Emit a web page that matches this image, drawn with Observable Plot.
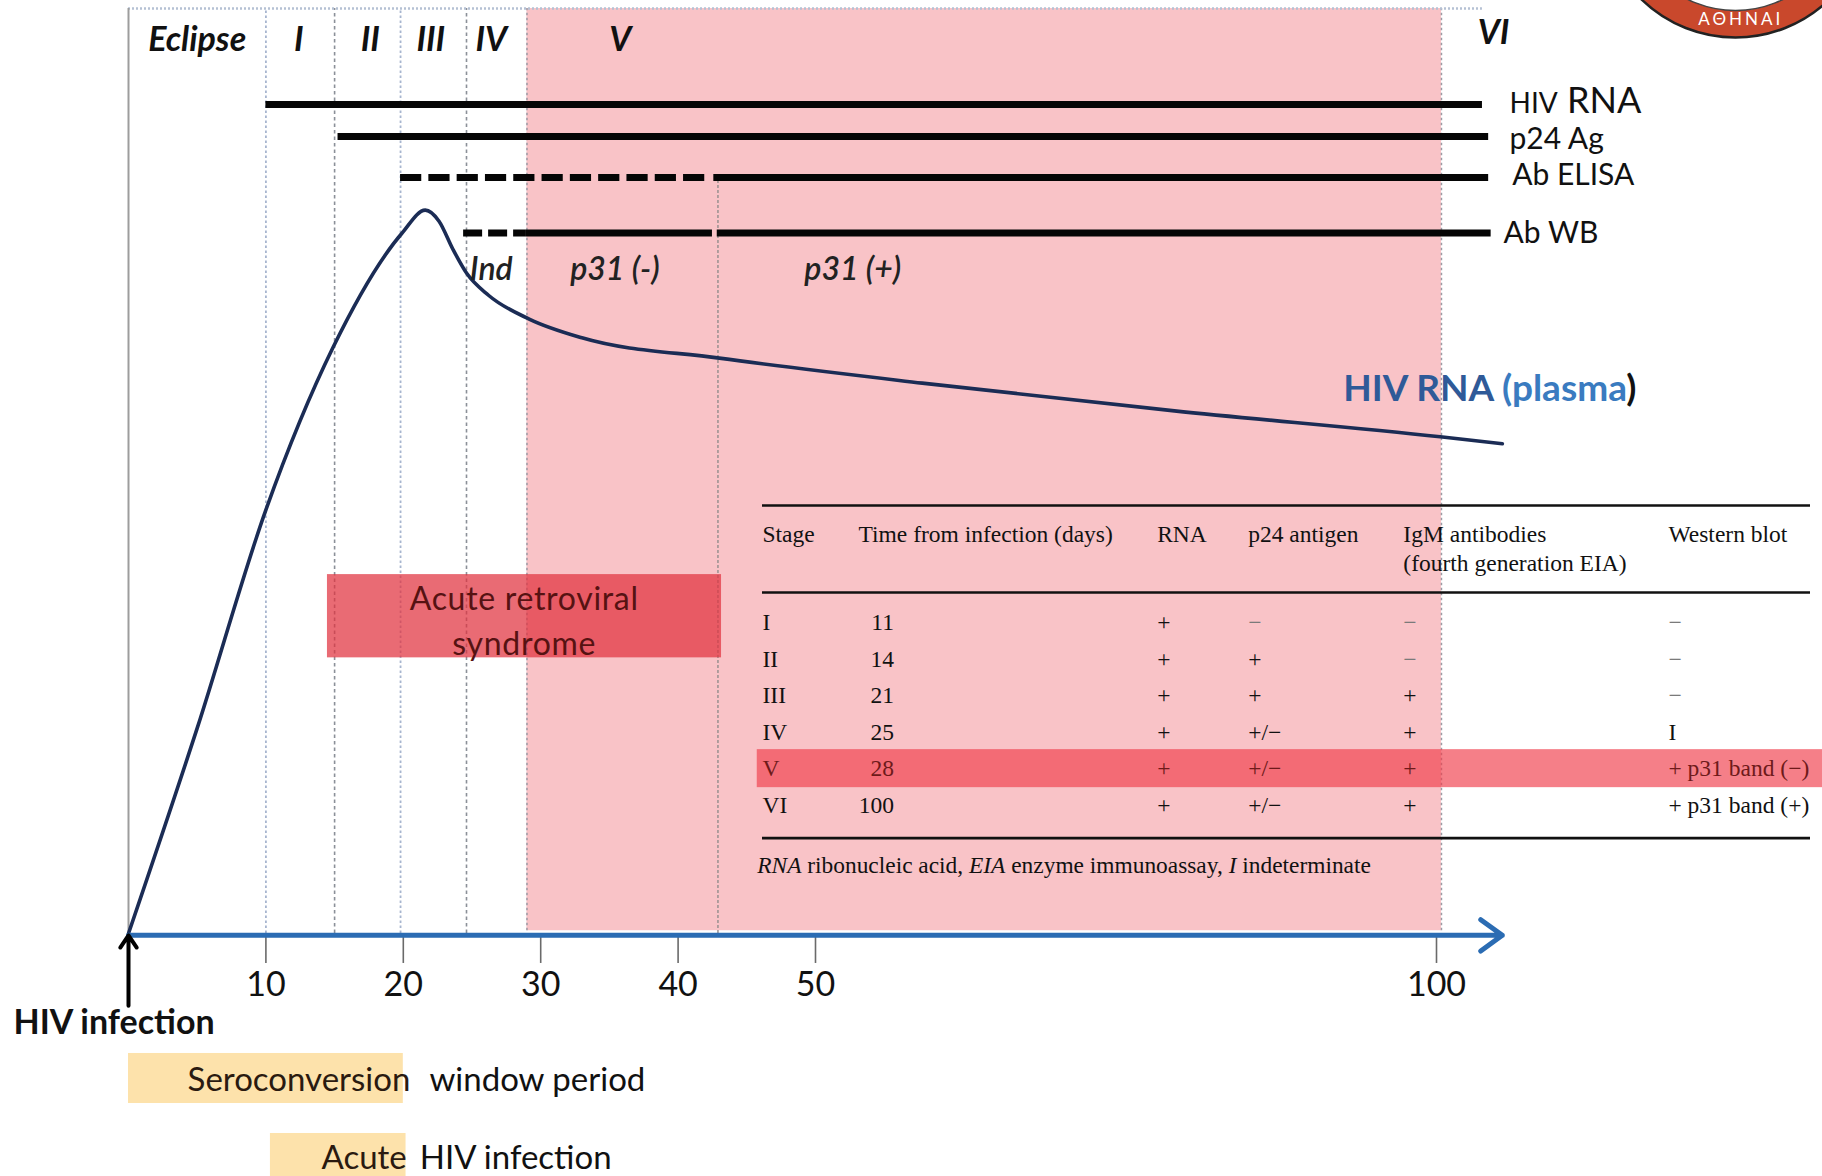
<!DOCTYPE html>
<html>
<head>
<meta charset="utf-8">
<title>HIV infection stages and laboratory markers</title>
<script src="https://cdn.jsdelivr.net/npm/d3@7"></script>
<script src="https://cdn.jsdelivr.net/npm/@observablehq/plot@0.6"></script>
<style>
  html, body { margin: 0; padding: 0; background: #ffffff; }
  #wrap { position: relative; width: 1822px; height: 1176px; overflow: hidden; }
  #wrap > svg { position: absolute; left: 0; top: 0; }
</style>
</head>
<body>
<div id="wrap"></div>
<script>
// ================= DATA =================
// Stages (days since infection)
const stageNames      = ["Eclipse", "I", "II", "III", "IV", "V", "VI"];
const stageLabelDay   = [5.0, 12.4, 17.6, 22.0, 26.4, 35.8, 104.6];
const stageBoundaryBlue = [10, 19.8];
const stageBoundaryGray = [15, 24.6];
const stageVWindow    = [29.0, 100.4];
const p31BoundaryDay  = [42.9];

// HIV RNA (plasma) curve, relative level (0 = axis, 100 = top)
const rnaDays  = [0, 5.0, 10.0, 14.9, 19.9, 21.6, 22.6, 23.6, 24.6, 26.2, 29.2, 33.0, 43.0, 58.6, 78.9, 100.3, 105.3];
const rnaLevel = [0, 22.2, 45.8, 63.4, 75.7, 78.2, 77.0, 74.0, 71.4, 69.0, 66.4, 64.4, 62.2, 59.5, 56.5, 53.7, 52.95];

// Laboratory test detection bars
const testNames  = ["HIV RNA", "p24 Ag", "Ab ELISA", "Ab WB"];
const segTest    = ["HIV RNA", "p24 Ag", "Ab ELISA", "Ab ELISA", "Ab WB", "Ab WB", "Ab WB"];
const segStart   = [10.0, 15.25, 19.8, 42.6, 24.39, 28.9, 42.85];
const segEnd     = [103.7, 104.2, 42.05, 104.2, 28.9, 42.5, 104.4];
const segDashed  = [false, false, true, false, true, false, false];

// Western blot band labels
const wbBandLabels = ["Ind", "p31 (-)", "p31 (+)"];
const wbBandDays   = [26.4, 35.4, 53.0];

// x axis ticks
const tickDays = [10, 20, 30, 40, 50, 100];

// Acute retroviral syndrome window
const syndromeWindow = [14.48, 43.16];

// Periods shown below the axis
const periodNames  = ["Seroconversion", "Acute"];
const periodSuffix = ["window period", "HIV infection"];
const periodStart  = [0, 10.33];
const periodEnd    = [20.0, 20.2];

// Table
const tableHeaders = ["Stage", "Time from infection (days)", "RNA", "p24 antigen", "IgM antibodies\n(fourth generation EIA)", "Western blot"];
const tableStages  = ["I", "II", "III", "IV", "V", "VI"];
const tableDays    = [11, 14, 21, 25, 28, 100];
const tableRNA     = ["+", "+", "+", "+", "+", "+"];
const tableP24     = ["\u2212", "+", "+", "+/\u2212", "+/\u2212", "+/\u2212"];
const tableIgM     = ["\u2212", "\u2212", "+", "+", "+", "+"];
const tableWB      = ["\u2212", "\u2212", "\u2212", "I", "+ p31 band (\u2212)", "+ p31 band (+)"];
const tableHighlightStage = "V";
const footnoteParts = [["RNA", true], [" ribonucleic acid, ", false], ["EIA", true], [" enzyme immunoassay, ", false], ["I", true], [" indeterminate", false]];

// ================= LAYOUT / STYLE =================
const W = 1822, H = 1176;
const LV = { top: 100, stageLabel: 96.54, stageLabelVI: 97.3, bandLabel: 71.8, rnaLabel: 58.8,
             synTop: 38.8, synBottom: 29.8, synText: 34.1, axis: -0.2, tickEnd: -3.24, tickLabel: -5.62,
             infArrowStart: -7.8, infLabel: -9.73 };
const testLevel     = {"HIV RNA": 89.62, "p24 Ag": 86.16, "Ab ELISA": 81.73, "Ab WB": 75.73};
const testLabelY    = {"HIV RNA": 88.75, "p24 Ag": 85.9, "Ab ELISA": 81.95, "Ab WB": 75.68};
const testLabelDay  = {"HIV RNA": 105.88, "p24 Ag": 105.88, "Ab ELISA": 106.1, "Ab WB": 105.4};
const periodBoxY    = [[-12.97, -18.38], [-21.62, -27.5]];
const periodTextY   = [-15.89, -24.3];
const periodNameDay = [4.3, 14.05];
const periodSuffixDay = [21.9, 21.2];
const axisEndDay = 105.3, topLineEnd = 103.7;
const logo = {x: 124.07, y: 111.46, x2: 124.5, y2: 98.8};
const rnaLabelDay = 92.5;
const synTextDay = 28.8;
const sans = "Lato";
const serif = "Liberation Serif";

const segs = segTest.map((t, i) => ({test: t, start: segStart[i], end: segEnd[i], dashed: segDashed[i]}));
const rna = rnaDays.map((d, i) => ({day: d, level: rnaLevel[i]}));
const stages = stageNames.map((s, i) => ({name: s, day: stageLabelDay[i]}));
const bands = wbBandLabels.map((s, i) => ({label: s, day: wbBandDays[i]}));
const periods = periodNames.map((n, i) => ({name: n, suffix: periodSuffix[i], start: periodStart[i], end: periodEnd[i],
  y1: periodBoxY[i][0], y2: periodBoxY[i][1], ty: periodTextY[i], nx: periodNameDay[i], sx: periodSuffixDay[i]}));

const main = Plot.plot({
  width: W, height: H, margin: 0,
  x: {type: "linear", domain: [0, 50, 100], range: [128, 815, 1436], axis: null},
  y: {type: "linear", domain: [0, 100], range: [933, 8], axis: null},
  style: {fontFamily: sans, background: "transparent", overflow: "hidden"},
  marks: [
    // stage V shaded window
    Plot.rect([stageVWindow], {x1: d => d[0], x2: d => d[1], y1: 0.3, y2: LV.top, fill: "#f9c3c7"}),
    // stage boundaries
    Plot.ruleX(stageBoundaryBlue, {x: d => d, y1: 0, y2: LV.top, stroke: "#a7b5cf", strokeWidth: 1.8, strokeDasharray: "2.5,2.5"}),
    Plot.ruleX(stageBoundaryGray, {x: d => d, y1: 0, y2: LV.top, stroke: "#8b9098", strokeWidth: 1.6, strokeDasharray: "3.5,3"}),
    Plot.ruleX(stageVWindow, {x: d => d, y1: 0.3, y2: LV.top, stroke: "#9c9aa4", strokeWidth: 1.5, strokeDasharray: "2.5,2.5"}),
    Plot.ruleX(p31BoundaryDay, {x: d => d, y1: 0, y2: testLevel["Ab ELISA"], stroke: "#9a9090", strokeWidth: 1.5, strokeDasharray: "3,2"}),
    // frame lines
    Plot.ruleY([LV.top], {x1: 0, x2: topLineEnd, stroke: "#b5c1d4", strokeWidth: 2.5, strokeDasharray: "2,2"}),
    Plot.ruleX([0], {y1: 0, y2: LV.top, stroke: "#9d9d9d", strokeWidth: 2}),
    // acute retroviral syndrome
    Plot.rect([syndromeWindow], {x1: d => d[0], x2: d => d[1], y1: LV.synBottom, y2: LV.synTop, fill: "#e1323f", fillOpacity: 0.72}),
    Plot.text(["Acute retroviral\nsyndrome"], {x: synTextDay, y: LV.synText, text: d => d, fontSize: 32, lineHeight: 1.42, fill: "#561212", fontFamily: sans}),
    // test detection bars
    Plot.ruleY(segs.filter(d => !d.dashed && d.test !== "Ab WB" || !d.dashed), {y: d => testLevel[d.test], x1: "start", x2: "end", stroke: "#050505", strokeWidth: 7}),
    Plot.ruleY(segs.filter(d => d.dashed && d.test === "Ab ELISA"), {y: d => testLevel[d.test], x1: "start", x2: "end", stroke: "#050505", strokeWidth: 7, strokeDasharray: "21.2,7.1"}),
    Plot.ruleY(segs.filter(d => d.dashed && d.test === "Ab WB"), {y: d => testLevel[d.test], x1: "start", x2: "end", stroke: "#050505", strokeWidth: 7, strokeDasharray: "19,6"}),
    // test labels
    Plot.text(testNames.filter(t => t !== "HIV RNA"), {x: t => testLabelDay[t], y: t => testLabelY[t], text: t => t, textAnchor: "start", fontSize: 30, fill: "#111", fontFamily: sans}),
    Plot.text(["HIV RNA"], {x: t => testLabelDay[t], y: t => testLabelY[t], text: t => t, textAnchor: "start", lineAnchor: "bottom", fontSize: 36, fill: "#111", fontFamily: sans}),
    // HIV RNA curve
    Plot.line(rna, {x: "day", y: "level", curve: "monotone-x", stroke: "#1b2c55", strokeWidth: 3.6}),
    Plot.text(["HIV RNA (plasma)"], {x: rnaLabelDay, y: LV.rnaLabel, text: d => d, textAnchor: "start", fontSize: 37, fontWeight: "bold", fill: "#2f5a98", fontFamily: sans}),
    // stage labels
    Plot.text(stages, {x: "day", y: d => d.name === "VI" ? LV.stageLabelVI : LV.stageLabel, text: "name", fontSize: 34, fontWeight: "bold", fontStyle: "italic", fill: "#111", fontFamily: sans}),
    // WB band labels
    Plot.text(bands, {x: "day", y: LV.bandLabel, text: "label", fontSize: 32, fontWeight: 600, fontStyle: "italic", fill: "#222", fontFamily: sans}),
    // x axis
    Plot.ruleX(tickDays, {x: d => d, y1: LV.axis, y2: LV.tickEnd, stroke: "#6a6a6a", strokeWidth: 1.6}),
    Plot.arrow([[0, axisEndDay]], {x1: d => d[0], x2: d => d[1], y1: LV.axis, y2: LV.axis, stroke: "#2b6cb3", strokeWidth: 5, headLength: 8, headAngle: 72}),
    Plot.text(tickDays, {x: d => d, y: LV.tickLabel, text: d => String(d), fontSize: 34, fill: "#111", fontFamily: sans}),
    // HIV infection arrow
    Plot.arrow([[LV.infArrowStart, LV.axis]], {x1: 0, x2: 0, y1: d => d[0], y2: d => d[1], stroke: "#000", strokeWidth: 4, headLength: 5.5, headAngle: 68}),
    Plot.text(["HIV infection"], {x: -1.05, y: LV.infLabel, text: d => d, fontSize: 34, fontWeight: "bold", fill: "#111", fontFamily: sans}),
    // periods below axis
    Plot.rect(periods, {x1: "start", x2: "end", y1: "y1", y2: "y2", fill: "#fde2ab"}),
    Plot.text(periods, {x: "nx", y: "ty", text: "name", textAnchor: "start", fontSize: 33, fill: "#2a1a10", fontFamily: sans}),
    Plot.text(periods, {x: "sx", y: "ty", text: "suffix", textAnchor: "start", fontSize: 33, fill: "#111", fontFamily: sans}),
    // logo
    Plot.dot([logo], {x: "x", y: "y", r: 135, fill: "#c9482c", stroke: "#222", strokeWidth: 2.5}),
    Plot.dot([logo], {x: "x", y: "y", r: 108, fill: "#ffffff", stroke: "#444", strokeWidth: 1.5}),
    Plot.text(["\u0391\u0398\u0397\u039D\u0391\u0399"], {x: logo.x2, y: logo.y2, text: d => d, fontSize: 17, fill: "#ffffff", fontFamily: sans})
  ]
});

// ---------- table overlay ----------
const colX = [0, 0.0916, 0.3766, 0.4634, 0.6115, 0.8645];
const timeRightX = 0.1254;
const TY = {rule1: -3.2, header: -2.75, rule2: -0.82, rule3: 5.9, foot: 6.65};
const cells = [];
tableStages.forEach((s, i) => {
  [[0, s], [2, tableRNA[i]], [3, tableP24[i]], [4, tableIgM[i]], [5, tableWB[i]]].forEach(([c, t]) => {
    cells.push({row: i, x: colX[c], text: t, hi: s === tableHighlightStage, minus: t === "\u2212"});
  });
});
const timeCells = tableDays.map((d, i) => ({row: i, x: timeRightX, text: String(d), hi: tableStages[i] === tableHighlightStage}));
const hiIndex = tableStages.indexOf(tableHighlightStage);

const table = Plot.plot({
  width: W, height: H, margin: 0,
  x: {type: "linear", domain: [0, 1], range: [762, 1810], axis: null},
  y: {type: "linear", domain: [-3.2, 6.65], range: [505, 865], axis: null},
  style: {fontFamily: serif, background: "transparent"},
  marks: [
    Plot.rect([hiIndex], {x1: -0.005, x2: 1.02, y1: d => d - 0.52, y2: d => d + 0.52, fill: "#f03c4a", fillOpacity: 0.66}),
    Plot.ruleY([TY.rule1, TY.rule2, TY.rule3], {x1: 0, x2: 1, stroke: "#111", strokeWidth: 2.6}),
    Plot.text(tableHeaders, {x: (d, i) => colX[i], y: TY.header, text: d => d, textAnchor: "start", lineAnchor: "top", lineHeight: 1.23, fontSize: 23.5, fill: "#111", fontFamily: serif}),
    Plot.text(cells.filter(d => !d.hi && !d.minus), {x: "x", y: "row", text: "text", textAnchor: "start", fontSize: 23.5, fill: "#111", fontFamily: serif}),
    Plot.text(cells.filter(d => !d.hi && d.minus), {x: "x", y: "row", text: "text", textAnchor: "start", fontSize: 23.5, fill: "#7a7a7a", fontFamily: serif}),
    Plot.text(cells.filter(d => d.hi), {x: "x", y: "row", text: "text", textAnchor: "start", fontSize: 23.5, fill: "#6e1a1a", fontFamily: serif}),
    Plot.text(timeCells.filter(d => !d.hi), {x: "x", y: "row", text: "text", textAnchor: "end", fontSize: 23.5, fill: "#111", fontFamily: serif}),
    Plot.text(timeCells.filter(d => d.hi), {x: "x", y: "row", text: "text", textAnchor: "end", fontSize: 23.5, fill: "#6e1a1a", fontFamily: serif}),
    Plot.text([footnoteParts.map(p => p[0]).join("")], {x: -0.005, y: TY.foot, text: d => d, textAnchor: "start", fontSize: 23.4, fill: "#111", fontFamily: serif})
  ]
});

const wrap = document.getElementById("wrap");
wrap.append(main, table);

// ---------- rich text post-processing ----------
function textsBy(root, content) {
  return d3.select(root).selectAll("text").filter(function () { return this.textContent === content; });
}
function rich(root, content, parts) {
  textsBy(root, content).each(function () {
    const t = d3.select(this);
    t.text(null);
    parts.forEach(p => {
      const sp = t.append("tspan").text(p.text);
      if (p.fill) sp.attr("fill", p.fill);
      if (p.size) sp.attr("font-size", p.size);
      if (p.italic) sp.attr("font-style", "italic");
    });
  });
}
rich(main, "HIV RNA (plasma)", [{text: "HIV RNA ", fill: "#2f5a98"}, {text: "(plasma", fill: "#3a7bc0"}, {text: ")", fill: "#111"}]);
rich(main, "HIV RNA", [{text: "HIV", size: 28}, {text: " RNA", size: 36}]);
rich(table, footnoteParts.map(p => p[0]).join(""), footnoteParts.map(p => ({text: p[0], italic: p[1]})));
textsBy(main, "\u0391\u0398\u0397\u039D\u0391\u0399").attr("letter-spacing", "3px");
textsBy(main, "Acute retroviralsyndrome").attr("letter-spacing", "0.7px");
</script>
</body>
</html>
